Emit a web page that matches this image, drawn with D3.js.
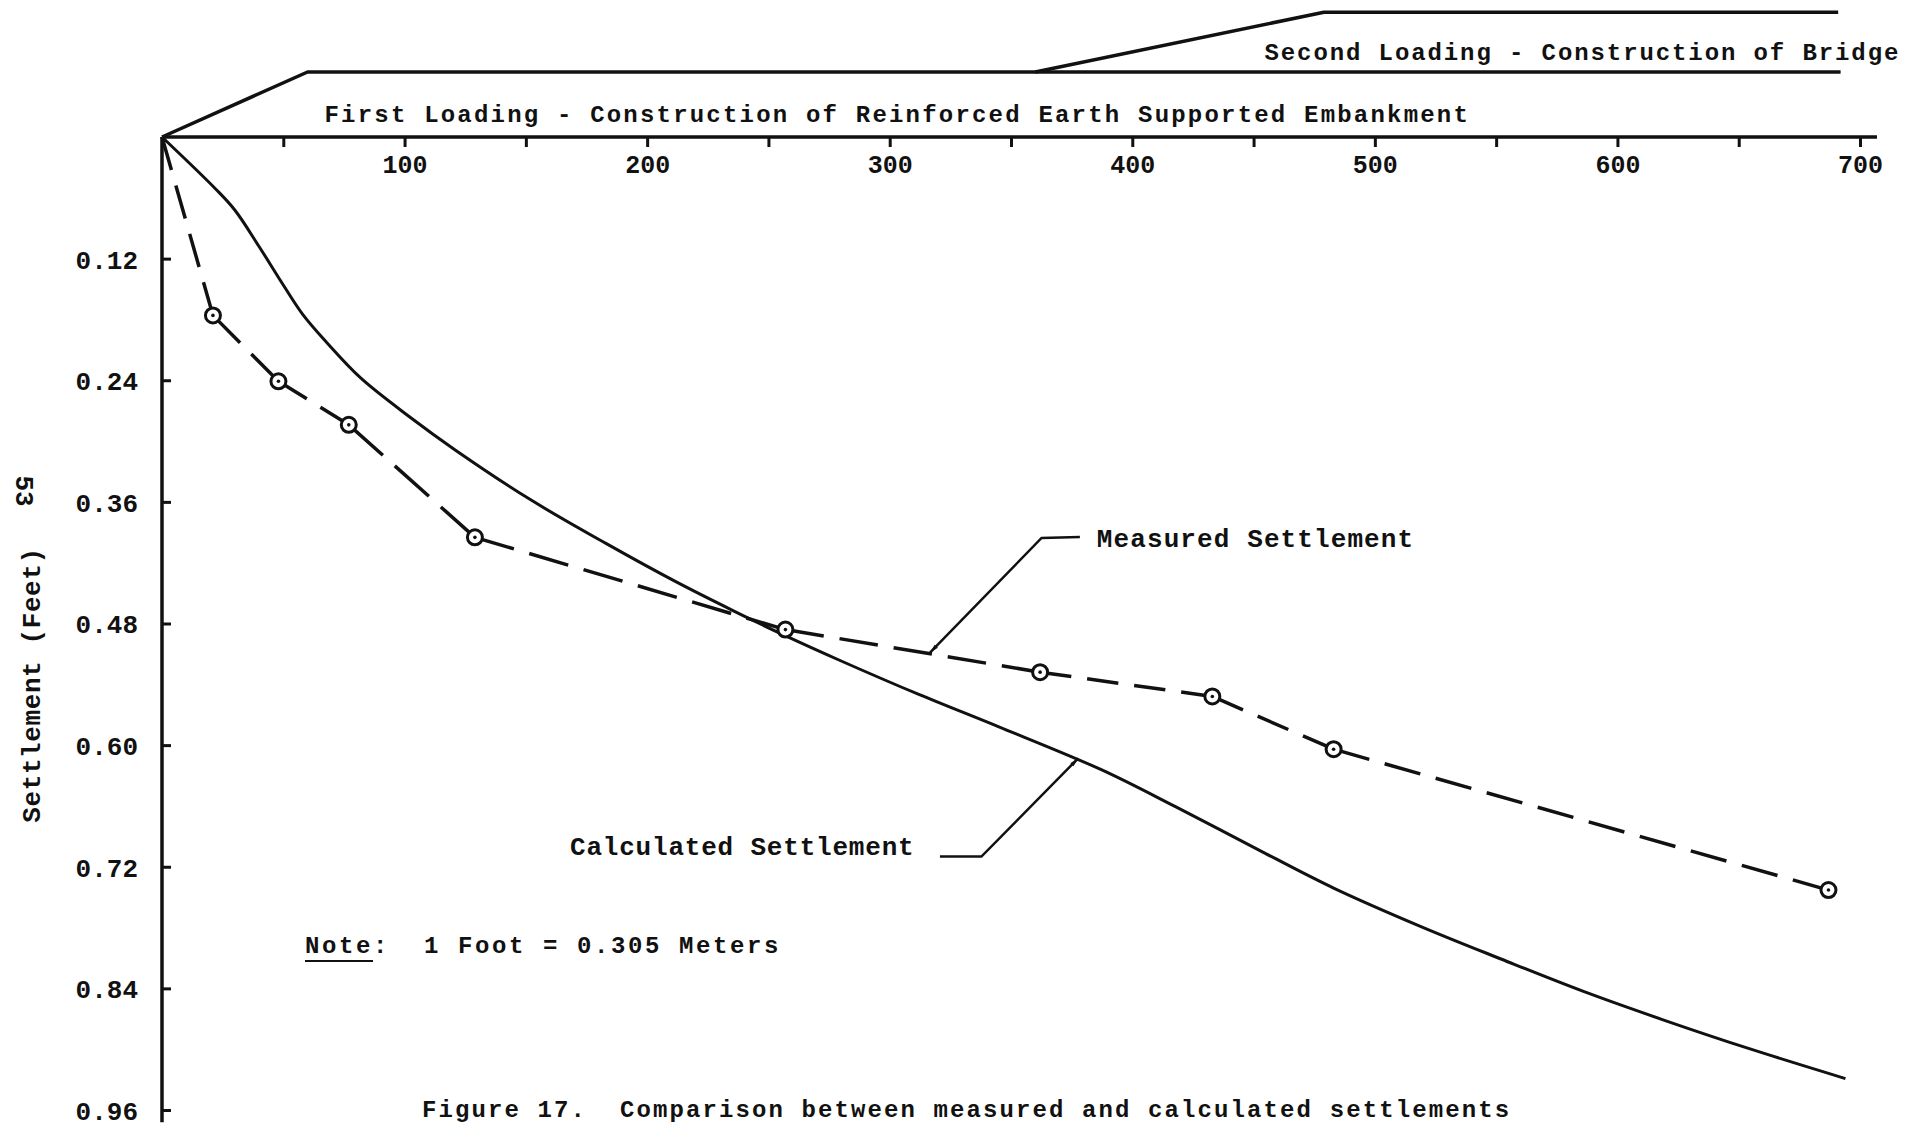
<!DOCTYPE html>
<html>
<head>
<meta charset="utf-8">
<script src="https://cdn.jsdelivr.net/npm/d3@7"></script>
<style>
  body { margin: 0; background: #fff; }
  svg text { font-family: "Liberation Mono", "DejaVu Sans Mono", monospace; font-weight: bold; fill: #111; }
</style>
</head>
<body>
<div id="chart"></div>
<script>
const width = 1914, height = 1125;
const ink = "#111";

// top axis: time (days), y axis: settlement (feet)
const xTicks = [50, 100, 150, 200, 250, 300, 350, 400, 450, 500, 550, 600, 650, 700];
const yTicks = [0.12, 0.24, 0.36, 0.48, 0.60, 0.72, 0.84, 0.96];

// measured settlement (circles)
const measuredDays = [0, 21, 48, 77, 129, 257, 362, 433, 483, 687];
const measuredFeet = [0, 0.176, 0.241, 0.284, 0.395, 0.486, 0.528, 0.552, 0.604, 0.743];

// calculated settlement (solid curve)
const calcDays = [0, 22, 30, 40, 50, 58, 68, 82, 102, 121, 152, 183, 212, 236, 256, 280, 312, 345, 387, 418, 455, 483, 519, 552, 586, 620, 655, 694];
const calcFeet = [0, 0.051, 0.072, 0.108, 0.146, 0.175, 0.203, 0.238, 0.276, 0.309, 0.358, 0.401, 0.439, 0.468, 0.491, 0.517, 0.550, 0.582, 0.624, 0.661, 0.707, 0.741, 0.779, 0.811, 0.843, 0.872, 0.900, 0.929];

// loading history above the axis (relative load level)
const firstLoadDays = [0, 60, 692];
const firstLoadLevel = [0, 1, 1];
const secondLoadDays = [360, 479, 691];
const secondLoadLevel = [1, 1.92, 1.92];

var svg = d3.select("#chart").append("svg")
    .attr("width", width)
    .attr("height", height);

svg.append("rect").attr("width", width).attr("height", height).attr("fill", "#fff");

var x = d3.scaleLinear().domain([0, 700]).range([162, 1860]);
var y = d3.scaleLinear().domain([0, 0.96]).range([137, 1110]);
var load = d3.scaleLinear().domain([0, 1]).range([137, 72]);

// axis lines
svg.append("line")
    .attr("x1", x(0)).attr("x2", x(707))
    .attr("y1", y(0)).attr("y2", y(0))
    .attr("stroke", ink).attr("stroke-width", 3.5);
svg.append("line")
    .attr("x1", x(0)).attr("x2", x(0))
    .attr("y1", y(0)).attr("y2", y(0.972))
    .attr("stroke", ink).attr("stroke-width", 3.5);

var xAxis = svg.append("g")
    .attr("transform", "translate(0," + y(0) + ")")
    .call(d3.axisBottom(x).tickValues(xTicks)
        .tickSizeInner(10).tickSizeOuter(0).tickPadding(8)
        .tickFormat(d => d % 100 === 0 ? d : ""))
    .attr("font-size", 25);
xAxis.select(".domain").remove();
xAxis.selectAll(".tick line").attr("stroke", ink).attr("stroke-width", 3);

var yAxis = svg.append("g")
    .attr("transform", "translate(" + x(0) + ",0)")
    .call(d3.axisLeft(y).tickValues(yTicks)
        .tickSizeInner(-9).tickSizeOuter(0).tickPadding(24)
        .tickFormat(d3.format(".2f")))
    .attr("font-size", 26);
yAxis.select(".domain").remove();
yAxis.selectAll(".tick line").attr("stroke", ink).attr("stroke-width", 3);
yAxis.selectAll(".tick text").attr("dy", "0.36em");

// loading diagram
var loadLine = d3.line().x(d => x(d[0])).y(d => load(d[1]));
svg.append("path")
    .datum(d3.zip(firstLoadDays, firstLoadLevel))
    .attr("d", loadLine)
    .attr("fill", "none").attr("stroke", ink).attr("stroke-width", 3.5)
    .attr("stroke-linejoin", "round");
svg.append("path")
    .datum(d3.zip(secondLoadDays, secondLoadLevel))
    .attr("d", loadLine)
    .attr("fill", "none").attr("stroke", ink).attr("stroke-width", 3.5)
    .attr("stroke-linejoin", "round");

svg.append("text")
    .attr("x", x(67)).attr("y", 121.5)
    .attr("font-size", 24).attr("letter-spacing", 2.2)
    .text("First Loading - Construction of Reinforced Earth Supported Embankment");
svg.append("text")
    .attr("x", x(454.5)).attr("y", 59.5)
    .attr("font-size", 24).attr("letter-spacing", 1.9)
    .text("Second Loading - Construction of Bridge");

// calculated settlement
var calc = d3.zip(calcDays, calcFeet);
svg.append("path")
    .datum(calc)
    .attr("d", d3.line().x(d => x(d[0])).y(d => y(d[1])).curve(d3.curveCatmullRom))
    .attr("fill", "none").attr("stroke", ink).attr("stroke-width", 3);

// measured settlement: dashes restart at every reading
var measured = d3.zip(measuredDays, measuredFeet);
var dash = 38, gap = 16;
svg.append("g").selectAll("line")
    .data(d3.pairs(measured))
    .join("line")
    .attr("x1", d => x(d[0][0])).attr("y1", d => y(d[0][1]))
    .attr("x2", d => x(d[1][0])).attr("y2", d => y(d[1][1]))
    .attr("stroke", ink).attr("stroke-width", 3.5)
    .attr("stroke-dasharray", function (d) {
        var len = Math.hypot(x(d[1][0]) - x(d[0][0]), y(d[1][1]) - y(d[0][1]));
        var n = Math.max(1, Math.round((len + gap) / (dash + gap)));
        var dl = (len - (n - 1) * gap) / n;
        return dl + "," + gap;
    });

var pts = svg.append("g").selectAll("g")
    .data(measured.slice(1))
    .join("g")
    .attr("transform", d => "translate(" + x(d[0]) + "," + y(d[1]) + ")");
pts.append("circle").attr("r", 7.5).attr("fill", "#fff").attr("stroke", ink).attr("stroke-width", 3);
pts.append("circle").attr("r", 1.8).attr("fill", ink);

// leaders with small arrowheads
svg.append("defs").append("marker")
    .attr("id", "arrow")
    .attr("viewBox", "0 -4 12 8")
    .attr("refX", 12).attr("refY", 0)
    .attr("markerWidth", 14).attr("markerHeight", 6)
    .attr("markerUnits", "userSpaceOnUse")
    .attr("orient", "auto")
    .append("path").attr("d", "M0,-3L12,0L0,3Z").attr("fill", ink);

var dataLine = d3.line().x(d => x(d[0])).y(d => y(d[1]));
svg.append("path")
    .datum([[378.4, 0.3947], [362.6, 0.3956], [316.6, 0.5088]])
    .attr("d", dataLine)
    .attr("fill", "none").attr("stroke", ink).attr("stroke-width", 2.5)
    .attr("marker-end", "url(#arrow)");
svg.append("path")
    .datum([[320.7, 0.710], [337.8, 0.710], [377.7, 0.613]])
    .attr("d", dataLine)
    .attr("fill", "none").attr("stroke", ink).attr("stroke-width", 2.5)
    .attr("marker-end", "url(#arrow)");

svg.append("text")
    .attr("x", x(385.4)).attr("y", 547)
    .attr("font-size", 26).attr("letter-spacing", 1.1)
    .text("Measured Settlement");
svg.append("text")
    .attr("x", x(168.2)).attr("y", 855)
    .attr("font-size", 26).attr("letter-spacing", 0.8)
    .text("Calculated Settlement");

// note
svg.append("text")
    .attr("x", 305).attr("y", 953)
    .attr("font-size", 24).attr("letter-spacing", 2.6)
    .attr("xml:space", "preserve")
    .text("Note:  1 Foot = 0.305 Meters");
svg.append("line")
    .attr("x1", 305).attr("x2", 373).attr("y1", 961).attr("y2", 961)
    .attr("stroke", ink).attr("stroke-width", 2);

// axis title and page number
svg.append("text")
    .attr("transform", "translate(40,685) rotate(-90)")
    .attr("text-anchor", "middle")
    .attr("font-size", 26).attr("letter-spacing", 0.6)
    .text("Settlement (Feet)");
svg.append("text")
    .attr("transform", "translate(16,491) rotate(90)")
    .attr("text-anchor", "middle")
    .attr("font-size", 26)
    .text("53");

// caption
svg.append("text")
    .attr("x", 422).attr("y", 1117)
    .attr("font-size", 24).attr("letter-spacing", 2.1)
    .attr("xml:space", "preserve")
    .text("Figure 17.  Comparison between measured and calculated settlements");
</script>
</body>
</html>
